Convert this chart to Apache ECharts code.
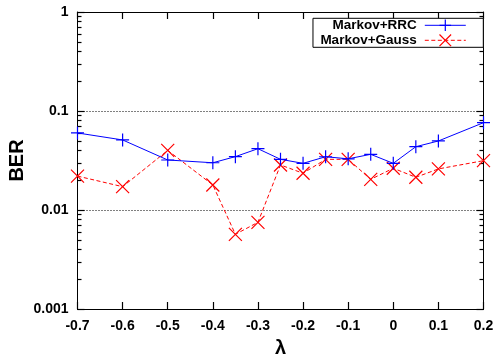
<!DOCTYPE html>
<html>
<head>
<meta charset="utf-8">
<script src="https://cdn.jsdelivr.net/npm/echarts@6/dist/echarts.min.js"></script>
<style>
html,body{margin:0;padding:0;background:#fff;}
#chart{width:494px;height:356px;}
</style>
</head>
<body>
<div id="chart"></div>
<script>
// λ values (x axis)
var lambda = [-0.7, -0.6, -0.5, -0.4, -0.35, -0.3, -0.25, -0.2, -0.15, -0.1, -0.05, 0, 0.05, 0.1, 0.2];
// BER series
var rrcBER   = [0.060, 0.051, 0.032, 0.030, 0.0346, 0.0416, 0.0325, 0.0296, 0.0345, 0.0329, 0.0365, 0.0296, 0.0436, 0.0498, 0.0762];
var gaussBER = [0.022, 0.0172, 0.040, 0.0179, 0.00568, 0.00751, 0.0285, 0.0235, 0.0325, 0.0325, 0.0204, 0.0264, 0.0214, 0.026, 0.0315];
var seriesNames = ['Markov+RRC', 'Markov+Gauss'];
// tick labels
var yTickLabels = ['0.001', '0.01', '0.1', '1'];
var yMinorTicks = [0.002,0.003,0.004,0.005,0.006,0.007,0.008,0.009,
                   0.02,0.03,0.04,0.05,0.06,0.07,0.08,0.09,
                   0.2,0.3,0.4,0.5,0.6,0.7,0.8,0.9];

var FONT = '"Liberation Sans", Arial, Helvetica, sans-serif';
var chart = echarts.init(document.getElementById('chart'));

function pairs(ys){ return lambda.map(function(x,i){ return [x, ys[i]]; }); }

var black = '#000';
var tickStyle = {color: '#000', width: 1.2};
function yAx(extra){
  var base = {
    type: 'log', logBase: 10, min: 0.001, max: 1,
    axisLine: {show: true, onZero: false, lineStyle: {color: black, width: 1}},
    axisLabel: {show: false},
    splitLine: {show: false},
    minorTick: {show: false}
  };
  return Object.assign(base, extra);
}

var option = {
  animation: false,
  backgroundColor: '#fff',
  grid: {left: 77.5, right: 10.5, top: 12, bottom: 47, outerBoundsMode: 'none'},
  xAxis: [{
    type: 'value', min: -0.7, max: 0.2, interval: 0.1, position: 'bottom',
    name: 'λ', nameLocation: 'middle', nameGap: 29, nameMoveOverlap: false,
    nameTextStyle: {fontFamily: FONT, fontWeight: 'bold', fontSize: 20, color: black},
    axisLine: {show: true, onZero: false, lineStyle: {color: black, width: 1}},
    axisTick: {show: true, inside: true, length: 7, lineStyle: tickStyle},
    axisLabel: {show: true, margin: 10.5, fontFamily: FONT, fontWeight: 'bold', fontSize: 14, color: black,
      formatter: function(v){ return String(Math.round(v*10)/10); }},
    splitLine: {show: false}
  }, {
    type: 'value', min: -0.7, max: 0.2, interval: 0.1, position: 'top',
    axisLine: {show: true, onZero: false, lineStyle: {color: black, width: 1}},
    axisTick: {show: true, inside: true, length: 7, lineStyle: tickStyle},
    axisLabel: {show: false},
    splitLine: {show: false}
  }],
  yAxis: [
    yAx({position: 'left',
      name: 'BER', nameLocation: 'middle', nameGap: 50, nameRotate: 90, nameMoveOverlap: false,
      nameTextStyle: {fontFamily: FONT, fontWeight: 'bold', fontSize: 20, color: black},
      axisTick: {show: true, inside: true, length: 7, lineStyle: tickStyle},
      axisLabel: {show: true, margin: 9, fontFamily: FONT, fontWeight: 'bold', fontSize: 14, color: black,
        formatter: function(v){ return yTickLabels[Math.round(Math.log10(v)) + 3]; }},
      splitLine: {show: true, lineStyle: {color: black, width: 1, type: [1, 2]}}
    }),
    yAx({position: 'right',
      axisTick: {show: true, inside: true, length: 7, lineStyle: tickStyle}}),
    yAx({position: 'left', axisLine: {show: false, onZero: false},
      axisTick: {show: true, inside: true, length: 4, customValues: yMinorTicks, lineStyle: tickStyle}}),
    yAx({position: 'right', axisLine: {show: false, onZero: false},
      axisTick: {show: true, inside: true, length: 4, customValues: yMinorTicks, lineStyle: tickStyle}})
  ],
  legend: {
    orient: 'vertical', align: 'right', right: 10.7, top: 18.3,
    backgroundColor: '#fff', borderColor: black, borderWidth: 1, borderRadius: 0,
    padding: [0, 17, 0, 7.4], itemGap: 1, itemWidth: 41, itemHeight: 14.5,
    itemStyle: {borderWidth: 1.2},
    lineStyle: {width: 1},
    textStyle: {fontFamily: FONT, fontWeight: 'bold', fontSize: 13.5, color: black, padding: [0, 3, 0, 0]},
    data: seriesNames
  },
  series: [{
    name: seriesNames[0], type: 'line', xAxisIndex: 0, yAxisIndex: 0,
    data: pairs(rrcBER),
    symbol: 'path://M0,6.5L13,6.5M6.5,0L6.5,13', symbolSize: 13,
    itemStyle: {color: '#0000ff', borderColor: '#0000ff', borderWidth: 1.2},
    lineStyle: {color: '#0000ff', width: 1, type: 'solid'},
    z: 3
  }, {
    name: seriesNames[1], type: 'line', xAxisIndex: 0, yAxisIndex: 0,
    data: pairs(gaussBER),
    symbol: 'path://M0,0L13,13M0,13L13,0', symbolSize: 13,
    itemStyle: {color: '#ff0000', borderColor: '#ff0000', borderWidth: 1.2},
    lineStyle: {color: '#ff0000', width: 1, type: [4, 2.5]},
    z: 2
  }]
};
chart.setOption(option);
</script>
</body>
</html>
